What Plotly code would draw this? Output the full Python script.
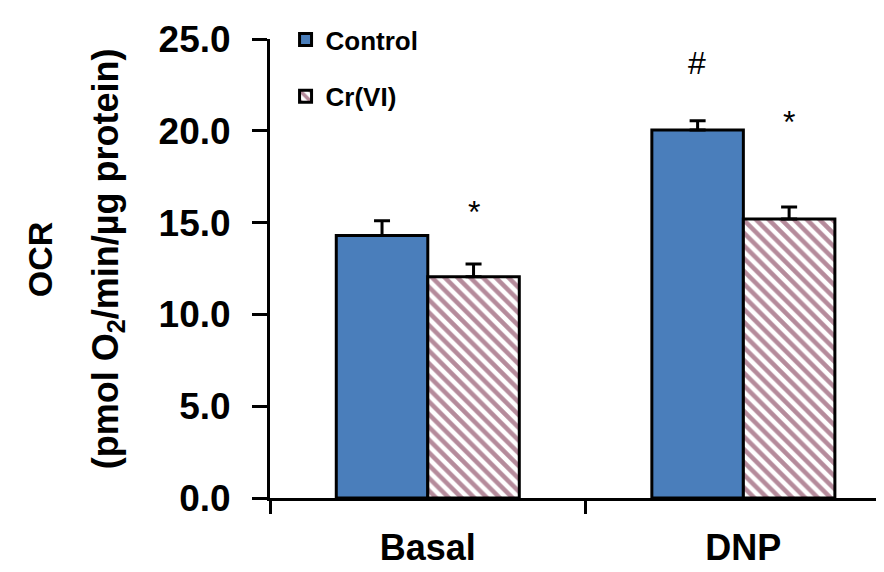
import plotly.graph_objects as go

categories = ["Basal", "DNP"]
control_vals = [14.3, 20.05]
control_err = [0.8, 0.5]
crvi_vals = [12.05, 15.2]
crvi_err = [0.7, 0.65]
y_ticks = [0, 5, 10, 15, 20, 25]
y_tick_text = ["0.0", "5.0", "10.0", "15.0", "20.0", "25.0"]
marks = [("Basal", "Cr(VI)", "*", 15.6), ("DNP", "Control", "#", 23.7), ("DNP", "Cr(VI)", "*", 20.5)]

FONT = "Liberation Sans, Arial, sans-serif"
L = 262
PW = 884 - L

fig = go.Figure()
fig.add_trace(go.Bar(
    name="Control", x=categories, y=control_vals, legendgroup="a",
    marker=dict(color="#4a7ebb", line=dict(color="black", width=3)),
    error_y=dict(type="data", array=control_err, arrayminus=[0, 0], symmetric=False,
                 color="black", thickness=3, width=8),
))
fig.add_trace(go.Bar(
    name="Cr(VI)", x=categories, y=crvi_vals, legendgroup="b",
    marker=dict(color="white", line=dict(color="black", width=3),
                pattern=dict(shape="\\", fgcolor="#6b1838", bgcolor="white", size=9, solidity=0.5)),
    error_y=dict(type="data", array=crvi_err, arrayminus=[0, 0], symmetric=False,
                 color="black", thickness=3, width=8),
))

for cat, series, txt, yv in marks:
    shift = -46 if series == "Control" else 46
    fig.add_annotation(x=cat, y=yv, text=txt, showarrow=False, xshift=shift,
                       font=dict(family=FONT, size=32, color="black"), yanchor="middle")

fig.add_annotation(xref="paper", yref="paper", x=(32 - L) / PW, y=0.52, text="<b>OCR</b>", textangle=-90,
                   showarrow=False, font=dict(family=FONT, size=34, color="black"),
                   xanchor="center", yanchor="middle")
fig.add_annotation(xref="paper", yref="paper", x=(100 - L) / PW, y=0.52,
                   text="<b>(pmol O<sub>2</sub>/min/µg protein)</b>", textangle=-90,
                   showarrow=False, font=dict(family=FONT, size=36, color="black"),
                   xanchor="center", yanchor="middle")

fig.update_layout(
    width=884, height=572,
    margin=dict(l=L, r=0, t=31, b=82),
    plot_bgcolor="white", paper_bgcolor="white",
    barmode="group", bargap=0.42, bargroupgap=0,
    showlegend=True,
    legend=dict(x=0.025, y=1.05, xanchor="left", yanchor="top", bgcolor="rgba(0,0,0,0)",
                font=dict(family=FONT, size=26, color="black", weight=700),
                tracegroupgap=20, itemwidth=30),
    xaxis=dict(range=[-0.5, 1.471], showline=True, linecolor="black", linewidth=3,
               ticks="outside", tickson="boundaries", ticklen=13, tickwidth=3, tickcolor="black",
               showgrid=False, ticklabelstandoff=16,
               tickfont=dict(family=FONT, size=36, color="black", weight=700)),
    yaxis=dict(range=[0, 25], showline=True, linecolor="black", linewidth=3,
               ticks="outside", ticklen=15, tickwidth=3, tickcolor="black",
               tickvals=y_ticks, ticktext=y_tick_text, showgrid=False, zeroline=False,
               ticklabelstandoff=14,
               tickfont=dict(family=FONT, size=37, color="black", weight=700)),
)

fig.write_html("out.html")
